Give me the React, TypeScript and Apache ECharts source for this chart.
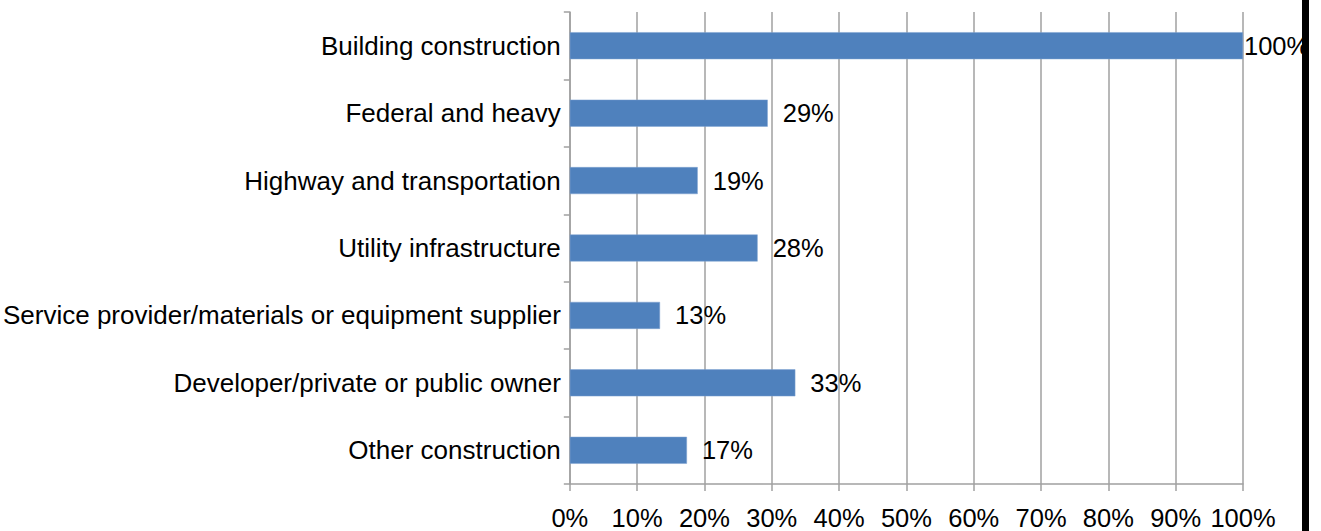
import React, { useEffect, useRef } from "react";
import * as echarts from "echarts";

const categories = [
  "Building construction",
  "Federal and heavy",
  "Highway and transportation",
  "Utility infrastructure",
  "Service provider/materials or equipment supplier",
  "Developer/private or public owner",
  "Other construction",
];
const values = [100, 29.4, 19, 27.9, 13.4, 33.5, 17.4];
const valueLabels = ["100%", "29%", "19%", "28%", "13%", "33%", "17%"];

export default function App() {
  const ref = useRef<HTMLDivElement>(null);
  useEffect(() => {
    document.body.style.margin = "0";
    const chart = echarts.init(ref.current!, null, { renderer: "svg" });
    const grey = "#a0a0a0";
    const font = "Liberation Sans, Arial, sans-serif";
    chart.setOption({
      animation: false,
      textStyle: { fontFamily: font },
      grid: { left: 569, right: 78, top: 12, bottom: 47, containLabel: false },
      xAxis: {
        type: "value",
        min: 0,
        max: 100,
        interval: 10,
        axisLine: { show: true, lineStyle: { color: grey, width: 1.5 } },
        axisTick: { show: true, length: 7, lineStyle: { color: grey, width: 1.5 } },
        splitLine: { show: true, lineStyle: { color: grey, width: 1.5 } },
        axisLabel: {
          formatter: "{value}%",
          color: "#000",
          fontSize: 25.5,
          margin: 21,
          fontFamily: font,
        },
      },
      yAxis: {
        type: "category",
        data: categories,
        inverse: true,
        axisLine: { show: true, lineStyle: { color: grey, width: 1.5 } },
        axisTick: { show: true, length: 6, lineStyle: { color: grey, width: 1.5 } },
        axisLabel: {
          color: "#000",
          fontSize: 26,
          margin: 9,
          fontFamily: font,
        },
      },
      series: [
        {
          type: "bar",
          data: values.map((v, i) => ({
            value: v,
            label: { distance: i === 0 ? 1 : 15 },
          })),
          barWidth: 27,
          itemStyle: { color: "#4f81bd", borderColor: "#7fa3d0", borderWidth: 0.5 },
          label: {
            show: true,
            position: "right",
            color: "#000",
            fontSize: 25.5,
            fontFamily: font,
            formatter: (p: any) => valueLabels[p.dataIndex],
          },
        },
      ],
      graphic: [
        {
          type: "rect",
          z: 100,
          shape: { x: 1302, y: 0, width: 7, height: 531 },
          style: { fill: "#000" },
        },
      ],
    });
    return () => chart.dispose();
  }, []);
  return (
    <div
      ref={ref}
      style={{ position: "fixed", left: 0, top: 0, width: 1321, height: 531, background: "#fff" }}
    />
  );
}
